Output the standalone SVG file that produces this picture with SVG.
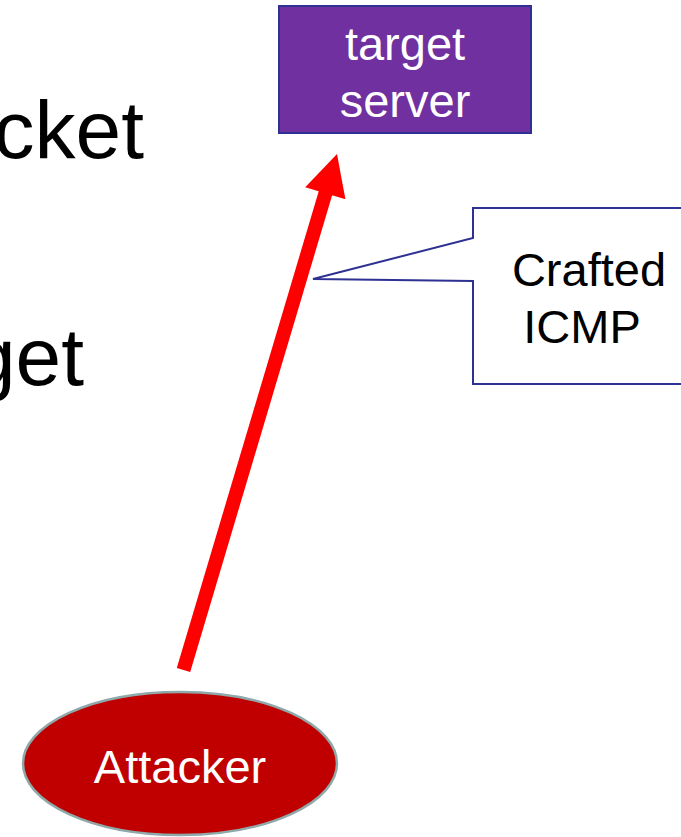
<svg xmlns="http://www.w3.org/2000/svg" width="681" height="837" viewBox="0 0 681 837">
<style>
text { font-family: "Liberation Sans", Arial, sans-serif; }
.bg { font-size: 82px; fill: #000; }
.lbl { font-size: 47px; text-anchor: middle; }
</style>
<rect x="0" y="0" width="681" height="837" fill="#fff"/>
<g id="background-text">
<text class="bg" x="144" y="158" text-anchor="end">cket</text>
<text class="bg" x="84" y="385" text-anchor="end">get</text>
</g>
<g id="connectors">
<line x1="183.5" y1="670" x2="327" y2="188" stroke="#ff0000" stroke-width="14"/>
<polygon points="337,154 345.4,199.3 305.2,187.3" fill="#ff0000"/>
</g>
<g id="target-server">
<rect x="279" y="6" width="252" height="127" fill="#7030A0" stroke="#2E3192" stroke-width="2"/>
<text class="lbl" x="405" y="60" fill="#fff">target</text>
<text class="lbl" x="405" y="117" fill="#fff">server</text>
</g>
<g id="callout">
<path d="M473,208 H690 V384 H473 V281 L313,279 L473,238 Z" fill="#fff" stroke="#2E3192" stroke-width="2"/>
<text class="lbl" x="589" y="286" fill="#000">Crafted</text>
<text class="lbl" x="582" y="343" fill="#000">ICMP</text>
</g>
<g id="attacker">
<ellipse cx="180" cy="763.5" rx="157" ry="71.5" fill="#C00000" stroke="#8FA8AA" stroke-width="2.5"/>
<text class="lbl" x="180" y="783" fill="#fff">Attacker</text>
</g>
</svg>
